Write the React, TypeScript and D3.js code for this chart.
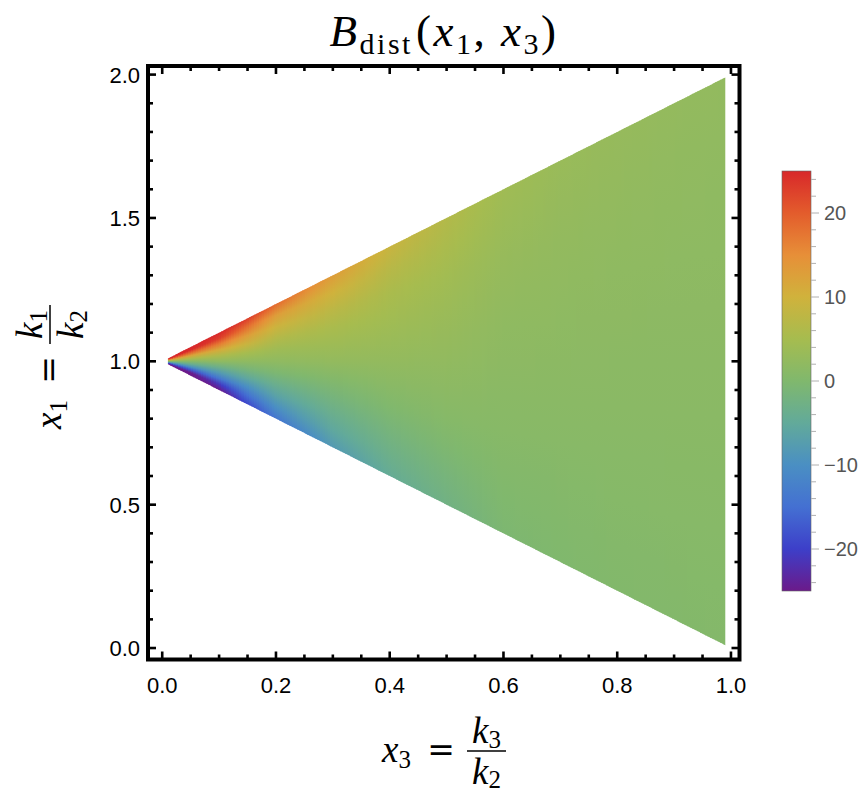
import React from "react";
import * as d3 from "d3";

const W = 863;
const H = 796;

// ---- axis ticks ----
const xMajorTicks = [0, 0.2, 0.4, 0.6, 0.8, 1.0];
const xTickLabels = ["0.0", "0.2", "0.4", "0.6", "0.8", "1.0"];
const yMajorTicks = [0, 0.5, 1.0, 1.5, 2.0];
const yTickLabels = ["0.0", "0.5", "1.0", "1.5", "2.0"];
const cbMajorTicks = [-20, -10, 0, 10, 20];
const cbTickLabels = ["\u221220", "\u221210", "0", "10", "20"];

// ---- colour function (legend stops) ----
const colorStopValues = [-25, -20, -15, -10, -5, 0, 5, 10, 15, 20, 25];
const colorStopHex = [
  "#6b1a8a", "#3d3fc9", "#4470d2", "#4a8fc3", "#62aa9a",
  "#80b86d", "#a6bc4f", "#d0b23c", "#e78f38", "#e35c2c", "#d8282a",
];

// ---- field data: B_dist values, sampled across the triangle ----
// columns at x3, rows at t = (x1 - (1 - x3)) / (2 x3): 0 = lower edge, 1 = upper edge
const x3Grid = [0.01, 0.05, 0.1, 0.15, 0.2, 0.3, 0.4, 0.5, 0.6, 0.7, 0.8, 0.9, 0.99];
const tGrid = [0, 0.1, 0.2, 0.3, 0.4, 0.5, 0.6, 0.7, 0.8, 0.9, 1];
const col001 = [-25, -25, -20, -12, -5, 1, 7, 14, 21, 25, 25];
const col005 = [-25, -25, -18, -10, -4, 1, 6, 12, 19, 25, 25];
const col010 = [-25, -21, -14, -8, -3, 2, 6, 11, 17, 23, 25];
const col015 = [-19, -15, -10, -5.5, -1.5, 2, 5, 9, 13, 18, 23];
const col020 = [-14, -10, -6.5, -3.5, -0.5, 2, 4, 6.5, 9.5, 13, 18.5];
const col030 = [-8, -5.5, -3.5, -1.5, 0.5, 2.5, 4, 5.5, 7.5, 10, 13];
const col040 = [-4.5, -3, -1.5, 0, 1.3, 2.5, 3.5, 4.5, 5.5, 7, 9];
const col050 = [-2.5, -1.5, -0.3, 0.8, 1.6, 2.3, 3, 3.7, 4.5, 5.5, 6.5];
const col060 = [-0.5, 0, 0.5, 1, 1.3, 1.7, 2, 2.5, 3, 3.6, 4.2];
const col070 = [0, 0.3, 0.6, 1, 1.3, 1.6, 1.9, 2.2, 2.5, 2.9, 3.3];
const col080 = [0.3, 0.5, 0.8, 1, 1.3, 1.5, 1.8, 2, 2.3, 2.6, 2.9];
const col090 = [0.4, 0.6, 0.9, 1.1, 1.3, 1.5, 1.7, 1.9, 2.1, 2.3, 2.6];
const col099 = [0.5, 0.7, 0.9, 1.1, 1.3, 1.5, 1.7, 1.9, 2.0, 2.2, 2.4];
const columns = [col001, col005, col010, col015, col020, col030, col040, col050, col060, col070, col080, col090, col099];

const FRAME = { left: 148, right: 739.5, top: 66, bottom: 659.5 };

const xs = d3.scaleLinear().domain([-0.025, 1.015]).range([FRAME.left, FRAME.right]);
const ys = d3.scaleLinear().domain([-0.04, 2.03]).range([FRAME.bottom, FRAME.top]);
const color = d3
  .scaleLinear<string>()
  .domain(colorStopValues)
  .range(colorStopHex)
  .interpolate(d3.interpolateRgb)
  .clamp(true);
const cbScale = d3.scaleLinear().domain([-25, 25]).range([591, 171]);

// per-row interpolators along x3
const rowScales = tGrid.map((_, j) =>
  d3.scaleLinear().domain(x3Grid).range(columns.map((c) => c[j]))
);

const SERIF = "'Liberation Serif', 'DejaVu Serif', serif";

function MathLabel({ cx, cy, rotate, sub, numSub, denSub }: any) {
  const fs = 37;
  const sfs = 25;
  return (
    <g transform={`translate(${cx},${cy}) rotate(${rotate})`} fontFamily={SERIF} fontSize={fs}>
      <text x={-62} y={11} fontStyle="italic">
        x<tspan fontStyle="normal" fontSize={sfs} dy={6}>{sub}</tspan>
      </text>
      <text x={-3} y={10} textAnchor="middle" fontSize={33} fontFamily="'DejaVu Serif', serif" fontWeight={300}>=</text>
      <line x1={23} x2={62} y1={0} y2={0} stroke="#000" strokeWidth={1.5} />
      <text x={42.5} y={-8} textAnchor="middle">
        <tspan fontStyle="italic">k</tspan>
        <tspan fontSize={sfs} dy={5}>{numSub}</tspan>
      </text>
      <text x={42.5} y={33} textAnchor="middle">
        <tspan fontStyle="italic">k</tspan>
        <tspan fontSize={sfs} dy={4}>{denSub}</tspan>
      </text>
    </g>
  );
}

export default function App() {
  const x3Min = x3Grid[0];
  const x3Max = x3Grid[x3Grid.length - 1];
  const N = 220;
  const strips = d3.range(N).map((i) => {
    const a = x3Min + ((x3Max - x3Min) * i) / N;
    const b = x3Min + ((x3Max - x3Min) * (i + 1)) / N;
    const c = (a + b) / 2;
    const xa = xs(a);
    const xbPx = i === N - 1 ? xs(b) : xs(b) + 0.9;
    const bb = xs.invert(xbPx);
    const pts = [
      [xa, ys(1 + a)],
      [xbPx, ys(1 + bb)],
      [xbPx, ys(1 - bb)],
      [xa, ys(1 - a)],
    ];
    const stops = tGrid.map((t, j) => ({ t, col: color(rowScales[j](c)) }));
    return { i, c, pts, stops };
  });

  const xMinor = d3.range(0, 1.0001, 0.05);
  const yMinor = d3.range(0, 2.0001, 0.1);
  const cbMinor = d3.range(-24, 24.001, 2);

  const tickFont = "'Liberation Sans', Arial, sans-serif";

  return (
    <svg width={W} height={H} style={{ display: "block", position: "absolute", left: 0, top: 0 }}>
      <rect width={W} height={H} fill="#fff" />
      <defs>
        {strips.map((s) => (
          <linearGradient
            key={s.i}
            id={`g${s.i}`}
            gradientUnits="userSpaceOnUse"
            x1={xs(s.c)}
            x2={xs(s.c)}
            y1={ys(1 - s.c)}
            y2={ys(1 + s.c)}
          >
            {s.stops.map((st, k) => (
              <stop key={k} offset={st.t} stopColor={st.col} />
            ))}
          </linearGradient>
        ))}
        <linearGradient id="cbgrad" x1="0" x2="0" y1="1" y2="0">
          {colorStopValues.map((v, k) => (
            <stop key={k} offset={(v + 25) / 50} stopColor={colorStopHex[k]} />
          ))}
        </linearGradient>
      </defs>

      {/* density field */}
      <g>
        {strips.map((s) => (
          <polygon key={s.i} points={s.pts.map((p) => p.join(",")).join(" ")} fill={`url(#g${s.i})`} />
        ))}
      </g>

      {/* ticks */}
      <g stroke="#000" strokeWidth={2.6}>
        {xMinor.map((v, k) => {
          const major = Math.abs(v * 5 - Math.round(v * 5)) < 1e-6;
          const len = major ? 8 : 5;
          return (
            <g key={`xm${k}`}>
              <line x1={xs(v)} x2={xs(v)} y1={FRAME.bottom} y2={FRAME.bottom - len} />
              <line x1={xs(v)} x2={xs(v)} y1={FRAME.top} y2={FRAME.top + len} />
            </g>
          );
        })}
        {yMinor.map((v, k) => {
          const major = Math.abs(v * 2 - Math.round(v * 2)) < 1e-6;
          const len = major ? 8 : 5;
          return (
            <g key={`ym${k}`}>
              <line x1={FRAME.left} x2={FRAME.left + len} y1={ys(v)} y2={ys(v)} />
              <line x1={FRAME.right} x2={FRAME.right - len} y1={ys(v)} y2={ys(v)} />
            </g>
          );
        })}
      </g>

      {/* frame */}
      <rect
        x={FRAME.left}
        y={FRAME.top}
        width={FRAME.right - FRAME.left}
        height={FRAME.bottom - FRAME.top}
        fill="none"
        stroke="#000"
        strokeWidth={4}
      />

      {/* tick labels */}
      <g fontFamily={tickFont} fontSize={22} fill="#000">
        {xMajorTicks.map((v, k) => (
          <text key={`xl${k}`} x={xs(v)} y={693} textAnchor="middle">
            {xTickLabels[k]}
          </text>
        ))}
        {yMajorTicks.map((v, k) => (
          <text key={`yl${k}`} x={140} y={ys(v) + 8} textAnchor="end">
            {yTickLabels[k]}
          </text>
        ))}
      </g>

      {/* colour bar */}
      <rect x={782} y={171} width={29} height={420} fill="url(#cbgrad)" stroke="#666" strokeWidth={0.6} />
      <g stroke="#b0b0b0" strokeWidth={1}>
        {cbMinor.map((v, k) => {
          const major = Math.abs(v % 10) < 1e-6;
          return <line key={`cb${k}`} x1={811} x2={major ? 819 : 816} y1={cbScale(v)} y2={cbScale(v)} />;
        })}
      </g>
      <g fontFamily={tickFont} fontSize={20} fill="#555">
        {cbMajorTicks.map((v, k) => (
          <text key={`cbl${k}`} x={824} y={cbScale(v) + 7}>
            {cbTickLabels[k]}
          </text>
        ))}
      </g>

      {/* title */}
      <text
        x={444}
        y={46}
        textAnchor="middle"
        fontFamily={SERIF}
        fontSize={45}
        letterSpacing={2.5}
      >
        <tspan fontStyle="italic">B</tspan>
        <tspan fontSize={30} dy={8}>dist</tspan>
        <tspan dy={-8} dx={3}>(</tspan>
        <tspan fontStyle="italic">x</tspan>
        <tspan fontSize={30} dy={8}>1</tspan>
        <tspan dy={-8}>{",\u00A0"}</tspan>
        <tspan fontStyle="italic">x</tspan>
        <tspan fontSize={30} dy={8}>3</tspan>
        <tspan dy={-8}>)</tspan>
      </text>

      {/* axis labels */}
      <MathLabel cx={444} cy={751} rotate={0} sub="3" numSub="3" denSub="2" />
      <MathLabel cx={50} cy={367} rotate={-90} sub="1" numSub="1" denSub="2" />
    </svg>
  );
}
